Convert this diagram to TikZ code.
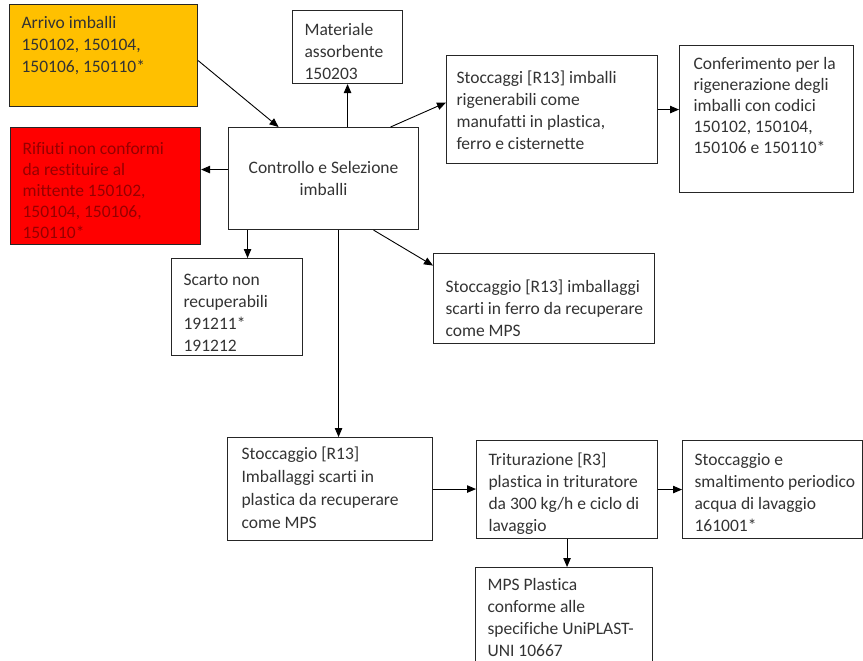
\documentclass[tikz,border=0pt]{standalone}
\usepackage{fontspec}
\setmainfont{Carlito}[Ligatures=CommonOff]
\usetikzlibrary{arrows.meta, positioning}
\definecolor{arancio}{HTML}{FFC000}
\definecolor{rosso}{HTML}{FF0000}
\definecolor{rossoscuro}{HTML}{960000}
\definecolor{grigiotesto}{HTML}{333333}
% testo allineato in alto dentro un riquadro di misura fissa
\newcommand{\cella}[5][22]{\begin{minipage}[t][#3pt][t]{#2pt}\fontsize{17.5}{#1}\selectfont\vspace*{#4pt}\noindent\rlap{\begin{tabular}[t]{@{}l@{}}#5\end{tabular}}\end{minipage}}
\tikzset{
    >={Triangle[length=9pt, width=7.5pt]}, % punte delle frecce piene
    blocco/.style={draw=black!85, line width=1.1pt, anchor=north west, inner xsep=12pt, inner ysep=0pt, text=grigiotesto, font=\fontsize{17.5}{22}\selectfont},
    freccia/.style={->, line width=0.9pt, black}
}

\begin{document}
\begin{tikzpicture}[x=1pt, y=-1pt]
    \useasboundingbox (0,0) rectangle (863,661);

    \node[blocco, fill=arancio] (arrivo) at (9,4) {\cella{164}{102}{9}{Arrivo imballi\\150102, 150104,\\150106, 150110*}};
    \node[blocco] (materiale) at (292,10) {\cella{86}{73}{10}{Materiale\\assorbente\\150203}};
    \node[blocco, fill=rosso, text=rossoscuro] (rifiuti) at (10,127) {\cella[21]{166}{117}{12}{Rifiuti non conformi\\da restituire al\\mittente 150102,\\150104, 150106,\\150110*}};
    \node[blocco, inner sep=0pt, minimum width=190pt, minimum height=102pt, align=center] (controllo) at (228,127) {Controllo e Selezione\\imballi};
    \node[blocco, inner xsep=10pt] (stoccaggi) at (446,55) {\cella{191}{108}{13}{Stoccaggi [R13] imballi\\rigenerabili come\\manufatti in plastica,\\ferro e cisternette}};
    \node[blocco, inner xsep=14pt] (conferimento) at (679,45) {\cella[21]{146}{147}{9}{Conferimento per la\\rigenerazione degli\\imballi con codici\\150102, 150104,\\150106 e 150110*}};
    \node[blocco] (scarto) at (171,258) {\cella{107}{97}{12}{Scarto non\\recuperabili\\191211*\\191212}};
    \node[blocco] (ferro) at (433,253) {\cella{197}{90}{24}{Stoccaggio [R13] imballaggi\\scarti in ferro da recuperare\\come MPS}};
    \node[blocco, inner xsep=14pt] (plastica) at (227,437) {\cella[23]{177}{103}{6}{Stoccaggio [R13]\\Imballaggi scarti in\\plastica da recuperare\\come MPS}};
    \node[blocco] (triturazione) at (476,440) {\cella{157}{98}{10}{Triturazione [R3]\\plastica in trituratore\\da 300 kg/h e ciclo di\\lavaggio}};
    \node[blocco] (smaltimento) at (682,440) {\cella{156}{98}{10}{Stoccaggio e\\smaltimento periodico\\acqua di lavaggio\\161001*}};
    \node[blocco] (mps) at (475,567) {\cella{153}{100}{8}{MPS Plastica\\conforme alle\\specifiche UniPLAST-\\UNI 10667}};

    \draw[freccia] ([yshift=-5pt]arrivo.east) -- ([xshift=-45pt]controllo.north);
    \draw[freccia] (materiale.south |- controllo.north) -- (materiale.south);
    \draw[freccia] ([xshift=67pt]controllo.north) -- ([yshift=7pt]stoccaggi.west);
    \draw[freccia] (stoccaggi.east) -- (stoccaggi.east -| conferimento.west);
    \draw[freccia] ([yshift=9pt]controllo.west) -- ([yshift=9pt]controllo.west -| rifiuti.east);
    \draw[freccia] ([xshift=-76pt]controllo.south) -- ([xshift=-76pt]controllo.south |- scarto.north);
    \draw[freccia] ([xshift=50pt]controllo.south) -- ([yshift=33pt]ferro.west);
    \draw[freccia] ([xshift=15pt]controllo.south) -- ([xshift=15pt]controllo.south |- plastica.north);
    \draw[freccia] (plastica.east) -- (plastica.east -| triturazione.west);
    \draw[freccia] (triturazione.east) -- (triturazione.east -| smaltimento.west);
    \draw[freccia] (triturazione.south) -- (triturazione.south |- mps.north);
\end{tikzpicture}
\end{document}
